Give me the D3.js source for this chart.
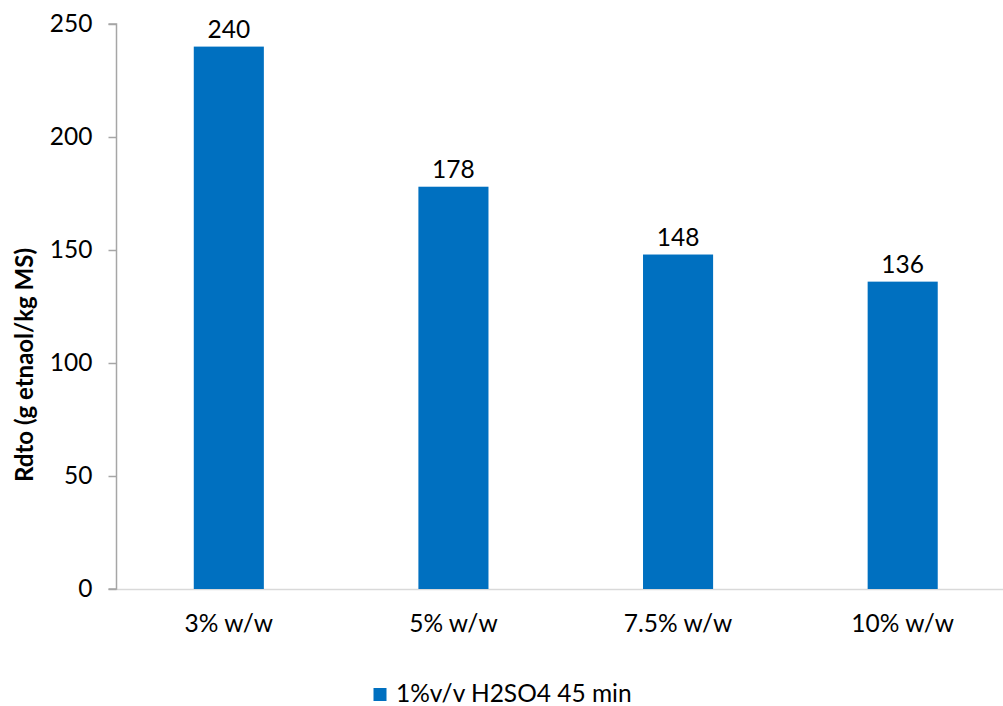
<!DOCTYPE html>
<html><head><meta charset="utf-8">
<script src="https://cdn.jsdelivr.net/npm/d3@7"></script>
<style>body{margin:0;background:#fff;} text{font-family:Lato,"Open Sans",sans-serif;fill:#000;}</style>
</head><body><svg id="c" width="1003" height="706"></svg>
<script>
const categories = ["3% w/w","5% w/w","7.5% w/w","10% w/w"];
const values = [240,178,148,136];
const yTicks = [0,50,100,150,200,250];
const seriesName = "1%v/v H2SO4 45 min";
const yTitle = "Rdto (g etnaol/kg MS)";

(function(){
const svg = d3.select("#c");
const pL = 116.5, pR = 1015, pT = 24, pB = 589;
const FS = 24.5;
const x = d3.scaleBand().domain(categories).range([pL,pR]).paddingInner(0.688).paddingOuter(0.344);
const y = d3.scaleLinear().domain([0,250]).range([pB,pT]);

svg.append("line").attr("x1",pL).attr("x2",1003).attr("y1",pB+0.5).attr("y2",pB+0.5)
  .attr("stroke","#d9d9d9").attr("stroke-width",1.5);
svg.selectAll("rect.bar").data(values).join("rect").attr("class","bar")
  .attr("x",(d,i)=>x(categories[i])).attr("width",x.bandwidth())
  .attr("y",d=>y(d)).attr("height",d=>y(0)-y(d)).attr("fill","#0070C0");
const ya = svg.append("g").attr("transform",`translate(${pL},0)`)
  .call(d3.axisLeft(y).tickValues(yTicks).tickSize(8).tickPadding(16));
ya.select(".domain").attr("stroke","#a6a6a6").attr("stroke-width",1.5).attr("d",`M-8,${pT}H0V${pB}H-8`);
ya.selectAll(".tick line").attr("stroke","#a6a6a6").attr("stroke-width",1.5);
ya.selectAll(".tick text").attr("font-size",FS).attr("font-family","Lato").attr("fill","#000");
svg.selectAll("text.xl").data(categories).join("text").attr("class","xl")
  .attr("x",d=>x(d)+x.bandwidth()/2).attr("y",632).attr("text-anchor","middle")
  .attr("font-size",FS).text(d=>d);
svg.selectAll("text.vl").data(values).join("text").attr("class","vl")
  .attr("x",(d,i)=>x(categories[i])+x.bandwidth()/2).attr("y",d=>y(d)-9)
  .attr("text-anchor","middle").attr("font-size",FS).text(d=>d);
svg.append("text").attr("transform","translate(33,365) rotate(-90)").attr("text-anchor","middle")
  .attr("font-size",24).attr("font-weight","bold").text(yTitle);
svg.append("rect").attr("x",373.5).attr("y",688).attr("width",13).attr("height",13).attr("fill","#0070C0");
svg.append("text").attr("x",396).attr("y",702).attr("font-size",FS).text(seriesName);
})();
</script></body></html>
